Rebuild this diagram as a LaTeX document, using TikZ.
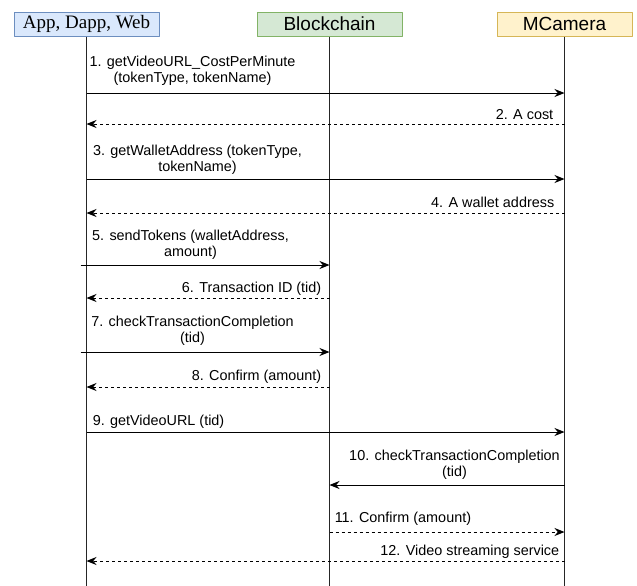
\documentclass[tikz,border=0pt]{standalone}
\usepackage{fontspec}
\setmainfont{Liberation Sans}
\newfontfamily\timesfont{Liberation Serif}
\usetikzlibrary{arrows.meta,calc,positioning}
\definecolor{appfill}{HTML}{DAE8FC}
\definecolor{appline}{HTML}{6C8EBF}
\definecolor{bcfill}{HTML}{D5E8D4}
\definecolor{bcline}{HTML}{82B366}
\definecolor{camfill}{HTML}{FFF2CC}
\definecolor{camline}{HTML}{D6B656}
\tikzset{
  actor/.style={draw,line width=0.75pt,minimum height=18pt,inner sep=0pt,font=\fontsize{14.25}{17}\selectfont},
  lifeline/.style={line width=0.75pt,draw=black!85},
  call/.style={line width=0.75pt,-{Stealth[length=7.5pt,width=6pt]}},
  reply/.style={call,dash pattern=on 2.25pt off 2.25pt},
  lbl/.style={font=\fontsize{10.8}{12}\selectfont,inner sep=0pt,align=center},
}
\begin{document}
\begin{tikzpicture}[x=0.75pt,y=-0.75pt,line join=round]
\useasboundingbox (0,0) rectangle (637,586);
% participants
\node[actor,minimum width=108.75pt,fill=appfill,draw=appline,font=\timesfont\fontsize{14.25}{17}\selectfont] (app) at (86.5,24) {App, Dapp, Web};
\node[actor,minimum width=108.75pt,fill=bcfill,draw=bcline] (bc) at (329.5,24) {Blockchain};
\node[actor,minimum width=101.25pt,fill=camfill,draw=camline] (cam) at (564.5,24) {MCamera};
\coordinate (appEnd) at (app.south |- 0,586);
\coordinate (bcEnd) at (bc.south |- 0,586);
\coordinate (camEnd) at (cam.south |- 0,586);
\draw[lifeline] (app.south)--(appEnd) (bc.south)--(bcEnd) (cam.south)--(camEnd);
% message rows
\foreach \n/\y in {1/93,2/124,3/179,4/213,5/265,6/298,7/352,8/387,9/432,10/485,11/532,12/561}{
  \coordinate (A\n) at (app.south |- 0,\y);
  \coordinate (B\n) at (bc.south |- 0,\y);
  \coordinate (M\n) at (cam.south |- 0,\y);
}
\draw[call] (A1)--(M1);
\draw[reply] (M2)--(A2);
\draw[call] (A3)--(M3);
\draw[reply] (M4)--(A4);
\draw[call,shorten <=-4.5pt] (A5)--(B5);
\draw[reply] (B6)--(A6);
\draw[call,shorten <=-4.5pt] (A7)--(B7);
\draw[reply] (B8)--(A8);
\draw[call] (A9)--(M9);
\draw[call] (M10)--(B10);
\draw[reply] (B11)--(M11);
\draw[reply] (M12)--(A12);
% labels
\node[lbl] (l1) at ($(A1)+(106,-22)$) {1. getVideoURL\_CostPerMinute\\(tokenType, tokenName)};
\node[lbl,anchor=east] (l2) at ($(M2)+(-11,-9)$) {2. A cost};
\node[lbl] (l3) at ($(A3)+(111,-19)$) {3. getWalletAddress (tokenType,\\tokenName)};
\node[lbl,anchor=east] (l4) at ($(M4)+(-10,-11)$) {4. A wallet address};
\node[lbl] (l5) at ($(A5)+(104,-20)$) {5. sendTokens (walletAddress,\\amount)};
\node[lbl,anchor=east] (l6) at ($(B6)+(-8,-9)$) {6. Transaction ID (tid)};
\node[lbl] (l7) at ($(A7)+(106,-21)$) {7. checkTransactionCompletion\\(tid)};
\node[lbl,anchor=east] (l8) at ($(B8)+(-8,-10)$) {8. Confirm (amount)};
\node[lbl,anchor=west] (l9) at ($(A9)+(6,-10)$) {9. getVideoURL (tid)};
\node[lbl] (l10) at ($(B10)+(125,-20)$) {10. checkTransactionCompletion\\(tid)};
\node[lbl,anchor=west] (l11) at ($(B11)+(5,-13)$) {11. Confirm (amount)};
\node[lbl,anchor=east] (l12) at ($(M12)+(-5,-9)$) {12. Video streaming service};
\end{tikzpicture}
\end{document}
